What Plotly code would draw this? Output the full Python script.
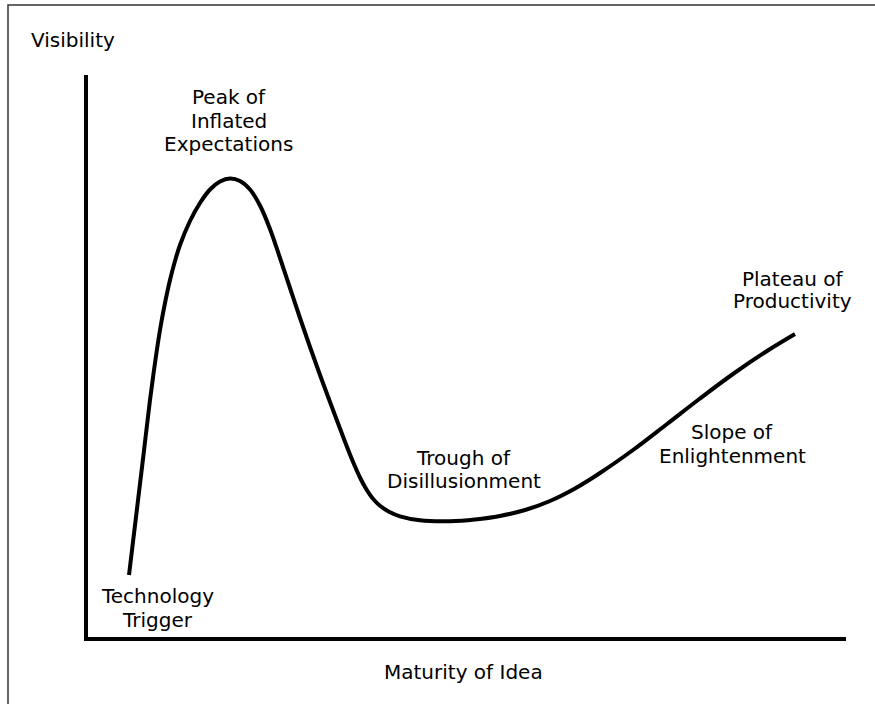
import plotly.graph_objects as go

# Hype-cycle curve, arbitrary units (Maturity 0-758, Visibility 0-562)
maturity = [41, 48, 55, 62, 67, 72, 77, 82, 87, 92, 102, 112, 122, 132, 142,
            152, 162, 172, 182, 192, 202, 212, 222, 232, 242, 252, 262, 267, 272,
            277, 282, 287, 292, 302, 312, 332, 362,
            387, 412, 437, 462, 487, 512, 545, 579, 612, 645, 679, 707]
visibility = [62, 120, 178, 237, 274, 307, 334, 357, 376, 392, 416, 434, 447.5, 455.5, 458.5,
              456, 447.5, 431.5, 408, 379, 349, 319, 290, 262, 235, 208.5, 182.5, 170.5, 159.5,
              150, 142.2, 136, 131.2, 124.7, 120.7, 116.7, 115.8,
              117.5, 121, 127, 136, 148.5, 164, 187, 213, 238.5, 263, 286, 303]
x_max, y_max = 758, 562

# Phase labels: (line text, center x, center y) as fractions of the axes
label_lines = [
    ("Peak of", 0.186, 0.961),
    ("Inflated", 0.186, 0.919),
    ("Expectations", 0.186, 0.877),
    ("Technology", 0.092, 0.073),
    ("Trigger", 0.092, 0.030),
    ("Trough of", 0.496, 0.319),
    ("Disillusionment", 0.496, 0.277),
    ("Slope of", 0.850, 0.364),
    ("Enlightenment", 0.850, 0.322),
    ("Plateau of", 0.930, 0.637),
    ("Productivity", 0.930, 0.598),
]
y_title = "Visibility"
x_title = "Maturity of Idea"

L, R, T, B = 88, 29, 75, 67
W, H = 875, 704
pw, ph = W - L - R, H - T - B

def px_to_paper(px, py):
    return (px - L) / pw, (H - B - py) / ph

FONT = dict(family="DejaVu Sans, Liberation Sans, Arial", size=20, color="black")

fig = go.Figure()
fig.add_trace(go.Scatter(
    x=maturity, y=visibility, mode="lines",
    line=dict(color="black", width=4, shape="spline", smoothing=1.0),
    hoverinfo="skip", showlegend=False,
))

annotations = []
for text, xv, yv in label_lines:
    annotations.append(dict(text=text, x=xv, y=yv, xref="paper", yref="paper",
                            showarrow=False, xanchor="center", yanchor="middle", font=FONT))
vx, vy = px_to_paper(73, 40)
annotations.append(dict(text=y_title, x=vx, y=vy, xref="paper", yref="paper",
                        showarrow=False, xanchor="center", yanchor="middle", font=FONT))
mx, my = px_to_paper(463, 672)
annotations.append(dict(text=x_title, x=mx, y=my, xref="paper", yref="paper",
                        showarrow=False, xanchor="center", yanchor="middle", font=FONT))

bx0, by0 = px_to_paper(8, 5)
bx1, by1 = px_to_paper(900, 720)

fig.update_layout(
    width=W, height=H,
    margin=dict(l=L, r=R, t=T, b=B, pad=0),
    paper_bgcolor="white", plot_bgcolor="white",
    xaxis=dict(range=[0, x_max], showgrid=False, zeroline=False, showticklabels=False,
               ticks="", showline=True, linecolor="black", linewidth=4, fixedrange=True),
    yaxis=dict(range=[0, y_max], showgrid=False, zeroline=False, showticklabels=False,
               ticks="", showline=True, linecolor="black", linewidth=4, fixedrange=True),
    annotations=annotations,
    shapes=[dict(type="rect", xref="paper", yref="paper", x0=bx0, y0=by1, x1=bx1, y1=by0,
                 line=dict(color="#333333", width=1.5), layer="below")],
    showlegend=False,
)

fig.write_html(
    "out.html",
    config={"displayModeBar": False},
    post_script="document.body.style.margin='0';document.body.style.overflow='hidden';",
)
